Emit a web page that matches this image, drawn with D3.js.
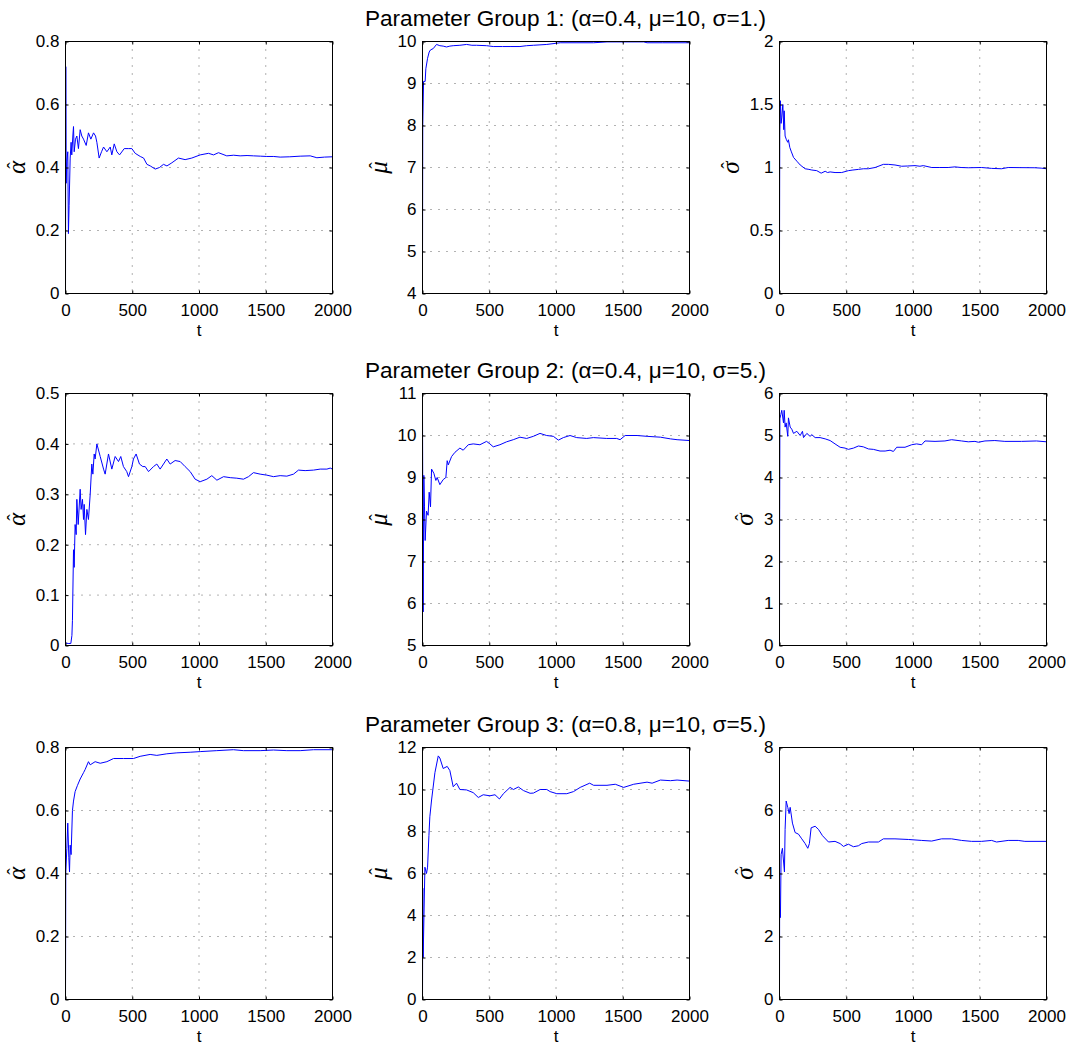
<!DOCTYPE html>
<html>
<head>
<meta charset="utf-8">
<script src="https://cdn.jsdelivr.net/npm/d3@7"></script>
<style>
    body { margin: 0; background: #fff; }
    svg { display: block; font-family: "Liberation Sans", Arial, Helvetica, sans-serif; }
</style>
</head>
<body>
<svg id="chart" width="1075" height="1045"></svg>
<script>
// Estimator paths, [t, value]
const g1Alpha = [[0,0],[2,0.72],[5,0.35],[10,0.42],[17,0.45],[22,0.19],[27,0.28],[35,0.43],[42,0.48],[47,0.44],[55,0.50],[60,0.53],[65,0.45],[75,0.49],[85,0.50],[97,0.46],[110,0.52],[122,0.50],[135,0.49],[155,0.47],[172,0.51],[190,0.49],[210,0.51],[225,0.50],[235,0.48],[252,0.43],[270,0.45],[285,0.465],[310,0.45],[335,0.465],[347,0.44],[365,0.475],[385,0.45],[405,0.44],[440,0.46],[470,0.46],[497,0.46],[522,0.445],[560,0.435],[585,0.43],[610,0.41],[635,0.405],[672,0.395],[704,0.40],[734,0.41],[760,0.405],[797,0.415],[846,0.43],[896,0.425],[946,0.43],[1009,0.44],[1071,0.445],[1109,0.44],[1146,0.447],[1208,0.437],[1260,0.439],[1308,0.437],[1360,0.438],[1408,0.437],[1460,0.436],[1508,0.435],[1560,0.435],[1608,0.433],[1680,0.434],[1758,0.436],[1833,0.437],[1883,0.431],[1940,0.433],[2000,0.434]];
const g1Mu = [[0,4.6],[2,8.0],[8,9.05],[20,9.05],[25,9.35],[38,9.6],[50,9.75],[60,9.8],[80,9.83],[105,9.93],[130,9.9],[155,9.89],[180,9.87],[205,9.89],[230,9.9],[280,9.91],[330,9.93],[370,9.91],[405,9.91],[480,9.9],[530,9.88],[600,9.88],[656,9.88],[730,9.88],[780,9.9],[831,9.91],[880,9.92],[931,9.93],[1031,9.97],[1150,9.97],[1282,9.97],[1382,9.99],[1450,9.99],[1532,9.99],[1657,9.99],[1682,9.97],[1800,9.97],[2000,9.97]];
const g1Sigma = [[0,0.3],[2,1.26],[7,1.53],[12,1.35],[17,1.4],[25,1.5],[32,1.3],[35,1.45],[42,1.25],[52,1.22],[62,1.2],[67,1.22],[77,1.16],[87,1.13],[105,1.08],[130,1.05],[155,1.02],[192,0.99],[220,0.985],[242,0.98],[279,0.975],[312,0.955],[342,0.97],[360,0.96],[379,0.965],[416,0.96],[466,0.96],[516,0.975],[550,0.98],[591,0.985],[630,0.99],[666,0.99],[716,1.0],[778,1.025],[815,1.025],[865,1.02],[915,1.01],[960,1.012],[1015,1.015],[1052,1.01],[1077,1.015],[1140,1.0],[1200,1.0],[1264,1.0],[1314,1.005],[1360,1.0],[1414,0.998],[1514,1.0],[1589,0.993],[1663,0.99],[1713,1.0],[1800,0.999],[1913,0.998],[1960,0.995],[2000,0.99]];

const g2Alpha = [[0,0.005],[20,0.004],[40,0.004],[48,0.02],[52,0.05],[60,0.19],[65,0.155],[72,0.24],[80,0.22],[85,0.29],[95,0.24],[110,0.31],[117,0.27],[127,0.29],[135,0.25],[140,0.28],[150,0.22],[160,0.27],[172,0.25],[185,0.30],[197,0.36],[205,0.34],[215,0.38],[222,0.37],[235,0.40],[260,0.375],[285,0.35],[297,0.34],[322,0.38],[347,0.35],[372,0.375],[397,0.365],[414,0.375],[434,0.355],[459,0.345],[472,0.335],[497,0.355],[509,0.37],[529,0.38],[554,0.36],[579,0.355],[597,0.355],[622,0.345],[659,0.355],[684,0.36],[709,0.35],[759,0.37],[784,0.36],[821,0.367],[859,0.365],[896,0.355],[934,0.345],[971,0.33],[1009,0.325],[1059,0.33],[1096,0.337],[1134,0.328],[1184,0.335],[1234,0.333],[1283,0.332],[1333,0.33],[1371,0.335],[1408,0.343],[1458,0.34],[1508,0.338],[1558,0.335],[1608,0.337],[1658,0.336],[1708,0.34],[1745,0.348],[1795,0.347],[1858,0.348],[1908,0.35],[1958,0.35],[1983,0.352],[2000,0.35]];
const g2Mu = [[0,10.5],[5,5.8],[10,9.05],[15,8.3],[20,7.5],[30,8.2],[42,8.1],[50,8.65],[60,8.3],[68,9.2],[85,9.1],[100,8.93],[110,9.0],[130,8.83],[155,8.95],[175,9.0],[185,9.4],[193,9.3],[218,9.5],[243,9.6],[280,9.7],[305,9.65],[343,9.78],[380,9.8],[430,9.78],[480,9.86],[505,9.8],[530,9.73],[580,9.78],[630,9.85],[680,9.9],[730,9.96],[780,9.93],[830,9.98],[880,10.05],[930,10.0],[980,9.98],[1018,9.89],[1055,9.95],[1105,10.0],[1155,9.95],[1230,9.93],[1280,9.95],[1380,9.93],[1455,9.93],[1480,9.9],[1518,10.0],[1607,10.0],[1682,9.98],[1782,9.96],[1857,9.92],[1907,9.9],[2000,9.88]];
const g2Sigma = [[0,0.3],[1,2.8],[3,5.4],[10,5.5],[17,5.6],[30,5.3],[35,5.6],[42,5.2],[50,5.3],[62,4.98],[67,5.42],[80,5.2],[92,5.15],[105,5.05],[130,5.1],[155,5.0],[172,5.1],[180,4.95],[205,5.05],[229,4.98],[242,5.02],[267,4.95],[304,4.95],[342,4.92],[379,4.88],[416,4.8],[454,4.72],[491,4.7],[516,4.67],[554,4.7],[591,4.75],[628,4.73],[666,4.68],[703,4.67],[753,4.63],[791,4.63],[828,4.65],[853,4.62],[878,4.72],[940,4.72],[990,4.78],[1027,4.8],[1065,4.78],[1090,4.87],[1165,4.86],[1239,4.87],[1289,4.9],[1364,4.87],[1414,4.85],[1464,4.86],[1489,4.84],[1539,4.87],[1613,4.88],[1688,4.86],[1813,4.86],[1925,4.87],[2000,4.85]];

const g3Alpha = [[0,0],[2,0.4],[10,0.48],[17,0.56],[25,0.45],[30,0.405],[35,0.49],[42,0.46],[52,0.6],[60,0.63],[72,0.66],[90,0.68],[110,0.7],[135,0.72],[147,0.73],[172,0.755],[185,0.745],[222,0.755],[260,0.75],[310,0.755],[360,0.765],[435,0.765],[509,0.765],[559,0.772],[634,0.778],[684,0.775],[759,0.78],[834,0.783],[934,0.785],[1009,0.787],[1133,0.79],[1258,0.793],[1333,0.79],[1458,0.79],[1558,0.792],[1658,0.79],[1758,0.79],[1858,0.793],[2000,0.793]];
const g3Mu = [[0,0],[2,5.3],[5,2.0],[18,6.3],[30,6.0],[38,6.3],[48,7.8],[55,8.7],[68,9.5],[93,10.8],[118,11.6],[130,11.5],[155,11.0],[185,11.1],[205,10.9],[230,10.13],[255,10.3],[280,10.0],[330,9.98],[380,9.85],[418,9.62],[455,9.75],[505,9.7],[543,9.75],[576,9.55],[606,9.8],[656,10.1],[681,10.0],[718,10.12],[756,9.95],[806,9.82],[831,9.83],[881,10.0],[931,10.0],[956,9.9],[1006,9.8],[1081,9.8],[1131,9.9],[1181,10.1],[1252,10.3],[1282,10.2],[1382,10.2],[1444,10.25],[1507,10.1],[1582,10.25],[1682,10.35],[1720,10.3],[1782,10.45],[1857,10.42],[1907,10.45],[2000,10.4]];
const g3Sigma = [[0,0.4],[1,2.8],[7,2.6],[12,4.6],[22,4.8],[37,4.05],[42,5.4],[50,6.3],[62,6.1],[72,5.9],[80,6.1],[97,5.6],[117,5.3],[142,5.25],[167,5.1],[192,4.95],[212,4.8],[224,4.95],[237,5.45],[267,5.5],[292,5.4],[322,5.2],[367,5.0],[416,5.02],[454,4.95],[479,4.86],[516,4.93],[554,4.85],[591,4.88],[616,4.95],[666,5.0],[741,5.0],[778,5.1],[865,5.1],[965,5.08],[1065,5.05],[1140,5.03],[1214,5.1],[1289,5.1],[1364,5.05],[1439,5.02],[1514,5.02],[1589,5.05],[1626,5.0],[1713,5.05],[1788,5.05],[1838,5.02],[2000,5.02]];

// Axis ticks
const xTicks = [0, 500, 1000, 1500, 2000];
const alphaTicksA = [0, 0.2, 0.4, 0.6, 0.8];
const alphaTicksB = [0, 0.1, 0.2, 0.3, 0.4, 0.5];
const muTicksA = [4, 5, 6, 7, 8, 9, 10];
const muTicksB = [5, 6, 7, 8, 9, 10, 11];
const muTicksC = [0, 2, 4, 6, 8, 10, 12];
const sigmaTicksA = [0, 0.5, 1, 1.5, 2];
const sigmaTicksB = [0, 1, 2, 3, 4, 5, 6];
const sigmaTicksC = [0, 2, 4, 6, 8];

const titles = [
    "Parameter Group 1: (α=0.4, μ=10, σ=1.)",
    "Parameter Group 2: (α=0.4, μ=10, σ=5.)",
    "Parameter Group 3: (α=0.8, μ=10, σ=5.)"
];

const panels = [
    { row: 0, col: 0, data: g1Alpha, ticks: alphaTicksA, sym: "α" },
    { row: 0, col: 1, data: g1Mu, ticks: muTicksA, sym: "μ" },
    { row: 0, col: 2, data: g1Sigma, ticks: sigmaTicksA, sym: "σ" },
    { row: 1, col: 0, data: g2Alpha, ticks: alphaTicksB, sym: "α" },
    { row: 1, col: 1, data: g2Mu, ticks: muTicksB, sym: "μ" },
    { row: 1, col: 2, data: g2Sigma, ticks: sigmaTicksB, sym: "σ" },
    { row: 2, col: 0, data: g3Alpha, ticks: alphaTicksA, sym: "α" },
    { row: 2, col: 1, data: g3Mu, ticks: muTicksC, sym: "μ" },
    { row: 2, col: 2, data: g3Sigma, ticks: sigmaTicksC, sym: "σ" }
];

const W = 267, H = 252;
const colX = [65, 422, 779];
const rowY = [41, 393, 747];
const FONT = '"Liberation Sans", Arial, Helvetica, sans-serif';
const MATH = '"Liberation Serif", "Times New Roman", serif';
const TICK_FS = 17;

const svg = d3.select("#chart");
const fmt = d3.format("~g");

// Row titles (sit a little right of the middle axes centre, as in the source)
titles.forEach((t, i) => {
    svg.append("text")
        .attr("x", colX[1] + W / 2 + 10)
        .attr("y", rowY[i] - 15)
        .attr("text-anchor", "middle")
        .attr("font-size", 22.6)
        .attr("fill", "#000")
        .text(t);
});

panels.forEach((p, i) => {
    const g = svg.append("g")
        .attr("transform", `translate(${colX[p.col] + 0.5},${rowY[p.row] + 0.5})`);

    const x = d3.scaleLinear().domain([0, 2000]).range([0, W]);
    const y = d3.scaleLinear().domain(d3.extent(p.ticks)).range([H, 0]);

    // dotted grid
    const grid = g.append("g").attr("stroke", "#000").attr("stroke-width", 1)
        .attr("stroke-dasharray", "1,7").attr("opacity", 0.6);
    grid.selectAll(".gx").data(xTicks.slice(1, -1)).join("line")
        .attr("x1", d => x(d)).attr("x2", d => x(d))
        .attr("y1", 0).attr("y2", H);
    grid.selectAll(".gy").data(p.ticks.slice(1, -1)).join("line")
        .attr("x1", 0).attr("x2", W)
        .attr("y1", d => y(d)).attr("y2", d => y(d));

    // series
    g.append("clipPath").attr("id", "clip" + i)
        .append("rect").attr("width", W).attr("height", H);
    g.append("path")
        .datum(p.data)
        .attr("clip-path", `url(#clip${i})`)
        .attr("fill", "none")
        .attr("stroke", "#0000ff")
        .attr("stroke-width", 1)
        .attr("stroke-linejoin", "round")
        .attr("d", d3.line().x(d => x(d[0])).y(d => y(d[1])));

    // axes, MATLAB style: ticks pointing inward on all four sides
    const xb = g.append("g").attr("transform", `translate(0,${H})`)
        .call(d3.axisBottom(x).tickValues(xTicks).tickSize(-3).tickPadding(10).tickFormat(fmt));
    g.append("g")
        .call(d3.axisTop(x).tickValues(xTicks).tickSize(-3).tickFormat(""));
    const yl = g.append("g")
        .call(d3.axisLeft(y).tickValues(p.ticks).tickSize(-3).tickPadding(6).tickFormat(fmt));
    g.append("g").attr("transform", `translate(${W},0)`)
        .call(d3.axisRight(y).tickValues(p.ticks).tickSize(-3).tickFormat(""));
    g.selectAll(".domain").remove();
    g.selectAll(".tick line").attr("stroke", "#000");
    [xb, yl].forEach(a => a.attr("font-size", TICK_FS).attr("font-family", FONT)
        .selectAll("text").attr("fill", "#000"));

    g.append("rect").attr("width", W).attr("height", H)
        .attr("fill", "none").attr("stroke", "#000").attr("stroke-width", 1);

    // x label
    g.append("text")
        .attr("x", W / 2).attr("y", H + 42)
        .attr("text-anchor", "middle")
        .attr("font-size", 17)
        .text("t");

    // y label: hatted greek letter, rotated
    const maxW = d3.max(yl.selectAll("text").nodes(), n => n.getComputedTextLength());
    const lab = g.append("g")
        .attr("transform", `translate(${-(6 + maxW + 11)},${H / 2}) rotate(-90)`);
    lab.append("text")
        .attr("text-anchor", "middle")
        .attr("font-family", MATH)
        .attr("font-style", "italic")
        .attr("font-size", 25)
        .text(p.sym);
    lab.append("text")
        .attr("x", 2).attr("y", -5)
        .attr("text-anchor", "middle")
        .attr("font-family", MATH)
        .attr("font-size", 19)
        .text("ˆ");
});
</script>
</body>
</html>
